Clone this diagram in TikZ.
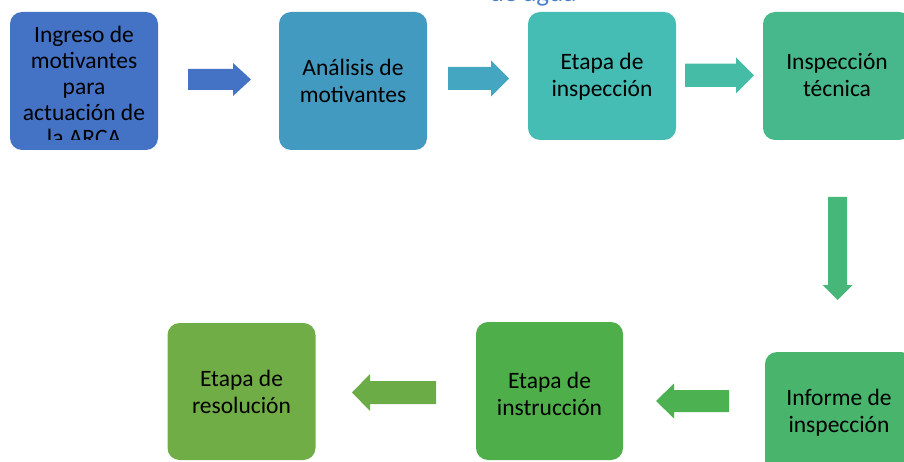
\documentclass[tikz,border=0pt]{standalone}
\usepackage{fontspec}
\setmainfont{Carlito}
\usetikzlibrary{calc}

\definecolor{paso1}{HTML}{4472C4}
\definecolor{paso2}{HTML}{439AC0}
\definecolor{paso3}{HTML}{45BDB4}
\definecolor{paso4}{HTML}{46B88B}
\definecolor{paso5}{HTML}{49B46B}
\definecolor{paso6}{HTML}{4EAF4A}
\definecolor{paso7}{HTML}{70AD47}
\definecolor{flecha2}{HTML}{44A6C0}
\definecolor{flecha3}{HTML}{45BCA6}
\definecolor{flecha4}{HTML}{47B779}
\definecolor{flecha5}{HTML}{4BB151}
\definecolor{flecha6}{HTML}{6BAC46}
\definecolor{titulo}{HTML}{4A7EC6}

\tikzset{
  caja/.style={rounded corners=12pt, inner sep=0pt,
    minimum width=148pt, minimum height=138pt},
  texto/.style={align=center, inner sep=0pt, anchor=base,
    font=\fontsize{23.5}{27}\selectfont},
}

% block arrow: colour, tail, tip, half body, half head, head length
\newcommand{\flecha}[6]{%
  \coordinate (hb) at ($(#3)!#6!(#2)$);
  \fill[#1] ($(#2)!#4!90:(#3)$) -- ($(hb)!#4!-90:(#2)$)
    -- ($(hb)!#5!-90:(#2)$) -- (#3) -- ($(hb)!#5!90:(#2)$)
    -- ($(hb)!#4!90:(#2)$) -- ($(#2)!#4!-90:(#3)$) -- cycle;}

\begin{document}
\begin{tikzpicture}[x=1pt,y=1pt]
\useasboundingbox (0,0) rectangle (904,-462);
\clip (0,0) rectangle (904,-462);

% title, cut off by the top edge
\node[font=\fontsize{27}{30}\selectfont, text=titulo, inner sep=0pt,
  anchor=base] (tit) at (533,-1.2) {de agua};

% top row
\node[caja, fill=paso1] (ingreso) at (84,-81) {};
\node[caja, fill=paso2] (analisis) at (353,-81) {};
\node[caja, fill=paso3, minimum height=128pt] (etapainsp) at (602,-76) {};
\node[caja, fill=paso4, minimum height=128pt] (tecnica) at (837,-76) {};

% bottom row
\node[caja, fill=paso5] (informe) at (839,-421) {};
\node[caja, fill=paso6, minimum width=147pt] (instruccion) at (549.5,-391) {};
\node[caja, fill=paso7, minimum height=137pt] (resolucion) at (241.5,-391.5) {};

% texts (base = last line)
\begin{scope}
  \clip (10,-12) rectangle (158,-140);
  \node[texto, font=\fontsize{23.5}{25.7}\selectfont] (t1) at (84,-145.8)
    {Ingreso de\\motivantes\\para\\actuación de\\la ARCA};
\end{scope}
\node[texto] (t2) at (353,-103) {Análisis de\\motivantes};
\node[texto] (t3) at (602,-96.5) {Etapa de\\inspección};
\node[texto] (t4) at (837,-97) {Inspección\\técnica};
\node[texto] (t5) at (839,-432) {Informe de\\inspección};
\node[texto] (t6) at (549.5,-415) {Etapa de\\instrucción};
\node[texto] (t7) at (241.5,-413) {Etapa de\\resolución};

% arrows
\coordinate (f1a) at (188,-79.5);   \coordinate (f1b) at (251,-79.5);
\coordinate (f2a) at (448,-78.5);   \coordinate (f2b) at (509,-78.5);
\coordinate (f3a) at (685,-75.3);   \coordinate (f3b) at (754,-75.3);
\coordinate (f4a) at (837.5,-197);  \coordinate (f4b) at (837.5,-300);
\coordinate (f5a) at (729,-401);    \coordinate (f5b) at (656,-401);
\coordinate (f6a) at (436,-392.5);  \coordinate (f6b) at (352,-392.5);
\flecha{paso1}{f1a}{f1b}{10.5pt}{16.5pt}{18pt}
\flecha{flecha2}{f2a}{f2b}{11.5pt}{18pt}{18pt}
\flecha{flecha3}{f3a}{f3b}{11.7pt}{18pt}{18pt}
\flecha{flecha4}{f4a}{f4b}{9.5pt}{15pt}{15pt}
\flecha{flecha5}{f5a}{f5b}{11pt}{17.5pt}{18pt}
\flecha{flecha6}{f6a}{f6b}{11.5pt}{18.5pt}{18pt}

\end{tikzpicture}
\end{document}
